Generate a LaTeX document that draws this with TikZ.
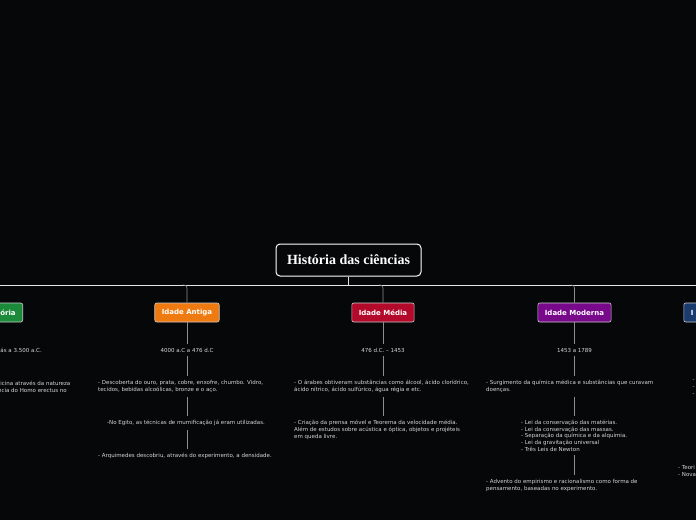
\documentclass[tikz,border=0pt]{standalone}
\usepackage{fontspec}
\setmainfont{Liberation Serif}
\setsansfont{DejaVu Sans}
\usetikzlibrary{positioning}

\definecolor{bgdark}{HTML}{060709}
\definecolor{txtgray}{HTML}{D6D6D6}
\definecolor{linkgray}{HTML}{8E8E8E}
\definecolor{prehistgreen}{HTML}{1B8A3A}
\definecolor{antigaorange}{HTML}{EF7A0F}
\definecolor{mediared}{HTML}{B30A2B}
\definecolor{modernapurple}{HTML}{77098A}
\definecolor{contempblue}{HTML}{1B3A6D}

\begin{document}
\begin{tikzpicture}[x=1pt, y=-1pt,
    root/.style={draw=white, line width=1pt, rounded corners=4pt, fill=bgdark, text=white,
      font=\bfseries\fontsize{14}{16}\selectfont, minimum width=145pt, minimum height=32pt},
    period/.style={draw=white!80!black, line width=0.6pt, rounded corners=2pt, fill=#1, text=white,
      font=\sffamily\bfseries\fontsize{7}{8}\selectfont, minimum height=19pt, inner xsep=7pt},
    item/.style={text=txtgray, font=\sffamily\fontsize{5.5}{7}\selectfont, align=left, inner sep=0pt},
    link/.style={draw=linkgray, line width=0.6pt, shorten <=4pt, shorten >=4pt}]
    \useasboundingbox (0,0) rectangle (696,520);
    \fill[bgdark] (0,0) rectangle (696,520);
    \clip (0,0) rectangle (696,520);

    % root and the long branch line
    \node[root] (root) at (348.5,260) {História das ciências};
    \coordinate (hub) at (348.5,285);
    \coordinate (lineL) at (-5,285);
    \coordinate (lineR) at (701,285);
    \draw[white!90!black, line width=1pt] (lineL) -- (lineR);
    \draw[white!90!black, line width=1pt] (root) -- (hub);

    % periods
    \node[period=prehistgreen, anchor=east, text width=40pt, align=right] (prehist) at (23,312.5) {ória};
    \node[period=antigaorange] (antiga) at (187,312.5) {Idade Antiga};
    \node[period=mediared] (media) at (383,312.5) {Idade Média};
    \node[period=modernapurple] (moderna) at (574.5,312.5) {Idade Moderna};
    \node[period=contempblue, anchor=west, text width=40pt, align=left] (contemp) at (683.5,312.5) {I};
    \foreach \p in {antiga, media, moderna}
        \draw[link, shorten <=0pt, shorten >=0pt, rounded corners=3pt] (\p.north) -- (\p.north |- hub) -- ++(-4,0);

    % Pre-historia (cut at the left edge)
    \node[item, anchor=east] (prehist1) at (42,350) {ás a 3.500 a.C.};
    \node[item, anchor=east] (prehist2a) at (70.5,383) {dicina através da natureza};
    \node[item, anchor=east] (prehist2b) at (67,390) {ncia do Homo erectus no};

    % Idade Antiga
    \node[item] (antiga1) at (187,350) {4000 a.C a 476 d.C};
    \node[item, anchor=north west] (antiga2) at (98,380)
        {- Descoberta do ouro, prata, cobre, enxofre, chumbo. Vidro,\\tecidos, bebidas alcoólicas, bronze e o aço.};
    \node[item, anchor=north west] (antiga3) at (107,420)
        {-No Egito, as técnicas de mumificação já eram utilizadas.};
    \node[item, anchor=north west] (antiga4) at (98,453)
        {- Arquimedes descobriu, através do experimento, a densidade.};
    \draw[link, shorten <=0pt] (antiga) -- (antiga1);
    \draw[link] (antiga1.south) -- (antiga1.south |- antiga2.north);
    \draw[link] (antiga2.south -| antiga) -- (antiga3.north -| antiga);
    \draw[link] (antiga3.south -| antiga) -- (antiga4.north -| antiga);

    % Idade Media
    \node[item] (media1) at (383,350) {476 d.C. – 1453};
    \node[item, anchor=north west] (media2) at (294,380)
        {- O árabes obtiveram substâncias como álcool, ácido clorídrico,\\ácido nítrico, ácido sulfúrico, água régia e etc.};
    \node[item, anchor=north west] (media3) at (294,420)
        {- Criação da prensa móvel e Teorema da velocidade média.\\Além de estudos sobre acústica e óptica, objetos e projéteis\\em queda livre.};
    \draw[link, shorten <=0pt] (media) -- (media1);
    \draw[link] (media1.south) -- (media1.south |- media2.north);
    \draw[link] (media2.south -| media) -- (media3.north -| media);

    % Idade Moderna
    \node[item] (moderna1) at (574.5,350) {1453 a 1789};
    \node[item, anchor=north west] (moderna2) at (486,380)
        {- Surgimento da química médica e substâncias que curavam\\doenças.};
    \node[item, anchor=north west, font=\sffamily\fontsize{5.5}{6.6}\selectfont] (moderna3) at (521,420)
        {- Lei da conservação das matérias.\\- Lei da conservação das massas.\\- Separação da química e da alquimia.\\- Lei da gravitação universal\\- Três Leis de Newton};
    \node[item, anchor=north west] (moderna4) at (486,479)
        {- Advento do empirismo e racionalismo como forma de\\pensamento, baseadas no experimento.};
    \draw[link, shorten <=0pt] (moderna) -- (moderna1);
    \draw[link] (moderna1.south) -- (moderna1.south |- moderna2.north);
    \draw[link] (moderna2.south -| moderna) -- (moderna3.north -| moderna);
    \draw[link] (moderna3.south -| moderna) -- (moderna4.north -| moderna);

    % last period (cut at the right edge)
    \node[item, anchor=north west] (contemp1) at (692.5,380) {-\\-\\-};
    \node[item, anchor=north west] (contemp2) at (678,465) {- Teori\\- Nova};
\end{tikzpicture}
\end{document}
